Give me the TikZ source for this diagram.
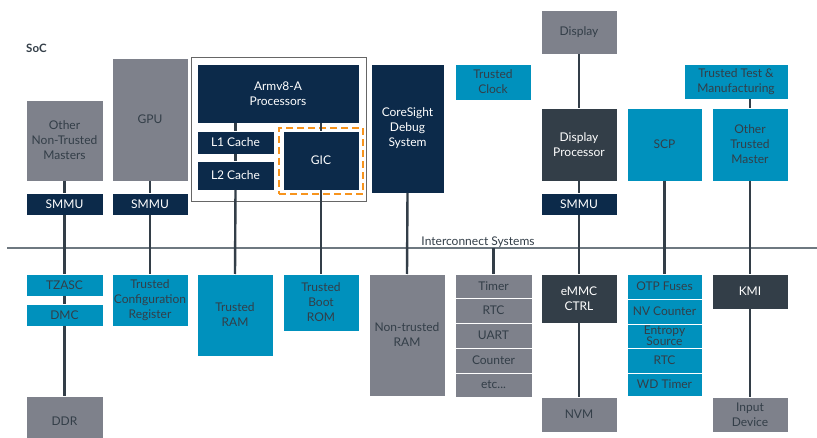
\documentclass[tikz,border=0pt]{standalone}
\usepackage{fontspec}
\setmainfont{Lato}
\definecolor{navy}{HTML}{0C2A4A}
\definecolor{slate}{HTML}{333E48}
\definecolor{teal}{HTML}{0091BD}
\definecolor{greybox}{HTML}{7E818B}
\definecolor{txtdark}{HTML}{333E48}
\definecolor{busgrey}{HTML}{6E7880}
\definecolor{gicorange}{HTML}{F7941D}
\tikzset{
  box/.style={rectangle, inner sep=0pt, outer sep=0pt, align=center,
    font=\fontsize{12}{15}\selectfont, draw=white, line width=0.6pt},
  navybox/.style={box, fill=navy, text=white},
  slatebox/.style={box, fill=slate, text=white},
  tealbox/.style={box, fill=teal, text=txtdark},
  greybx/.style={box, fill=greybox, text=txtdark},
  conn/.style={draw=slate, line width=2.4pt},
  bus/.style={draw=busgrey, line width=2pt},
}
\newcommand\mybox[7]{\node[#1, minimum width={#5pt-#3pt}, minimum height={#6pt-#4pt}] (#2) at ({(#3+#5)/2},{(#4+#6)/2}) {#7};}
\begin{document}
\begin{tikzpicture}[x=1pt,y=-1pt]
\useasboundingbox[fill=white] (0,0) rectangle (817,438);
% SoC label
\node[anchor=base west, font=\bfseries\fontsize{11.5}{14}\selectfont, text=txtdark, inner sep=0pt] (soc) at (26,53) {SoC};
% interconnect bus
\coordinate (busL) at (7,248);
\coordinate (busR) at (817,248);
\draw[bus] (busL) -- (busR);
\node[anchor=base, font=\fontsize{12}{15}\selectfont, text=txtdark, inner sep=0pt] (buslabel) at (478,245.5) {Interconnect Systems};
% upper row
\mybox{greybx}{omast}{26}{100}{103}{181}{Other\\Non-Trusted\\Masters}
\mybox{greybx}{gpu}{112}{58}{188}{181}{GPU}
\mybox{navybox}{smmua}{26}{193}{103}{215}{SMMU}
\mybox{navybox}{smmub}{112}{193}{188}{215}{SMMU}
\mybox{box, draw=black!60, line width=0.8pt, fill=none}{cluster}{191}{57}{366}{201}{}
\mybox{navybox}{arm}{197}{64}{359}{123}{Armv8-A\\Processors}
\mybox{navybox}{lone}{197}{131}{274}{154}{L1 Cache}
\mybox{navybox}{ltwo}{197}{161}{274}{190}{L2 Cache}
\mybox{navybox}{gic}{283}{131}{359}{190}{GIC}
\mybox{box, draw=gicorange, line width=1.8pt, dash pattern=on 7pt off 4pt, fill=none}{gicframe}{279}{128}{363}{194}{}
\mybox{navybox}{cs}{371}{64}{444}{193}{CoreSight\\Debug\\System}
\mybox{tealbox}{tclk}{455}{64}{531}{100}{Trusted\\Clock}
\mybox{greybx}{disp}{541}{10}{617}{54}{Display}
\mybox{slatebox}{dproc}{541}{108}{617}{181}{Display\\Processor}
\mybox{navybox}{smmuc}{541}{193}{617}{215}{SMMU}
\mybox{tealbox}{scp}{627}{108}{702}{181}{SCP}
\mybox{tealbox}{ttm}{684}{64}{788}{99}{Trusted Test \&\\Manufacturing}
\mybox{tealbox}{otm}{712}{108}{788}{181}{Other\\Trusted\\Master}
% lower row
\mybox{tealbox}{tzasc}{26}{274}{103}{296}{TZASC}
\mybox{tealbox}{dmc}{26}{304}{103}{326}{DMC}
\mybox{greybx}{ddr}{26}{396}{103}{446}{DDR}
\mybox{tealbox}{tcr}{112}{274}{188}{326}{Trusted\\Configuration\\Register}
\mybox{tealbox}{tram}{197}{274}{273}{356}{Trusted\\RAM}
\mybox{tealbox}{trom}{283}{274}{359}{331}{Trusted\\Boot\\ROM}
\mybox{greybx}{ntram}{369}{274}{445}{396}{Non-trusted\\RAM}
\mybox{greybx}{timer}{455}{274}{532}{298}{Timer}
\mybox{greybx}{rtca}{455}{298}{532}{323}{RTC}
\mybox{greybx}{uart}{455}{323}{532}{348}{UART}
\mybox{greybx}{counter}{455}{348}{532}{373}{Counter}
\mybox{greybx}{etc}{455}{373}{532}{397}{etc...}
\mybox{slatebox}{emmc}{541}{274}{617}{323}{eMMC\\CTRL}
\mybox{greybx}{nvm}{541}{397}{617}{432}{NVM}
\mybox{tealbox}{otp}{627}{274}{702}{299}{OTP Fuses}
\mybox{tealbox}{nvc}{627}{299}{702}{324}{NV Counter}
\mybox{tealbox, font=\fontsize{12}{11}\selectfont}{entropy}{627}{324}{702}{348}{Entropy\\Source}
\mybox{tealbox}{rtcb}{627}{348}{702}{373}{RTC}
\mybox{tealbox}{wdt}{627}{373}{702}{396}{WD Timer}
\mybox{slatebox}{kmi}{712}{274}{788}{309}{KMI}
\mybox{greybx}{indev}{712}{397}{788}{432}{Input\\Device}
% connectors
\draw[conn] (omast.south) -- (smmua.north);
\draw[conn] (smmua.south) -- (tzasc.north);
\draw[conn] (tzasc.south) -- (dmc.north);
\draw[conn] (dmc.south) -- (ddr.north);
\draw[conn] (gpu.south) -- (smmub.north);
\draw[conn] (smmub.south) -- (tcr.north);
\draw[conn] (lone.north) -- (lone.north |- arm.south);
\draw[conn] (lone.south) -- (ltwo.north);
\draw[conn] (ltwo.south) -- (tram.north);
\draw[conn] (gic.north) -- (gic.north |- arm.south);
\draw[conn] (gic.south) -- (trom.north);
\draw[conn] (cs.south) -- (ntram.north);
\coordinate (bustimer) at (timer.north |- busL);
\draw[conn] (bustimer) -- (timer.north);
\draw[conn] (disp.south) -- (dproc.north);
\draw[conn] (dproc.south) -- (smmuc.north);
\draw[conn] (smmuc.south) -- (emmc.north);
\draw[conn] (emmc.south) -- (nvm.north);
\draw[conn] (scp.south) -- (otp.north);
\draw[conn] (ttm.south -| otm.north) -- (otm.north);
\draw[conn] (otm.south) -- (kmi.north);
\draw[conn] (kmi.south) -- (indev.north);
\end{tikzpicture}
\end{document}
